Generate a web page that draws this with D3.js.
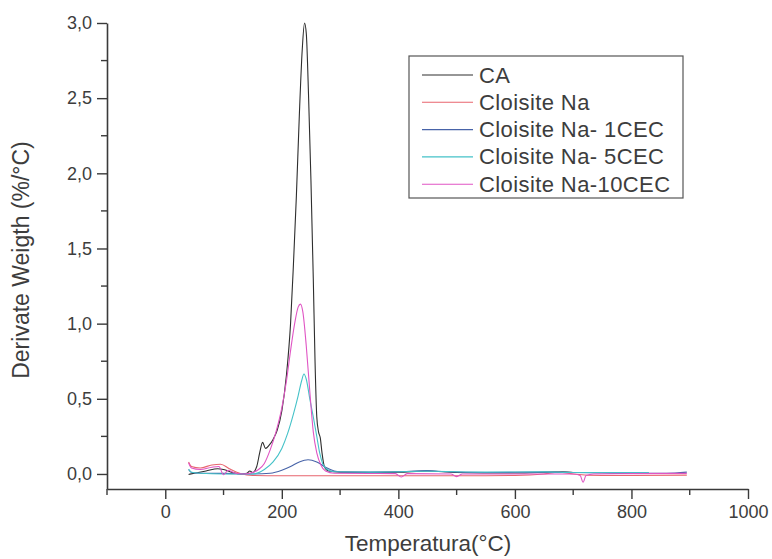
<!DOCTYPE html>
<html><head><meta charset="utf-8">
<script src="https://cdn.jsdelivr.net/npm/d3@7/dist/d3.min.js"></script>
<style>
html,body{margin:0;padding:0;background:#fff;}
svg{display:block;}
text{font-family:"Liberation Sans",Arial,sans-serif;fill:#3d3d3d;}
</style></head>
<body>
<svg id="chart" width="772" height="559"></svg>
<script>
// ---------- data ----------
const seriesNames = ["CA", "Cloisite Na", "Cloisite Na- 1CEC", "Cloisite Na- 5CEC", "Cloisite Na-10CEC"];
const seriesColors = ["#2e2e2e", "#e8646e", "#4763a8", "#45c2c8", "#e055c4"];

const xTickValues = [0, 200, 400, 600, 800, 1000];
const yTickValues = [0, 0.5, 1.0, 1.5, 2.0, 2.5, 3.0];

// [temperature °C, derivative weight %/°C]
const caData = [[40,-0.003],[50,0.005],[70,0.02],[90,0.035],[100,0.03],[115,0.01],[130,0.0],[140,0.004],[145,0.02],[150,0.01],[157,0.05],[162,0.14],[167,0.21],[172,0.17],[178,0.19],[185,0.23],[192,0.29],[200,0.42],[208,0.66],[215,1.0],[220,1.4],[225,1.85],[230,2.38],[235,2.82],[239,3.0],[242,2.93],[246,2.5],[250,1.95],[254,1.3],[257,0.75],[260,0.38],[263,0.28],[266,0.24],[269,0.14],[273,0.05],[280,0.02],[300,0.012],[350,0.01],[400,0.012],[450,0.02],[500,0.01],[600,0.006],[680,0.014],[700,0.01],[750,0.01]];
const naData = [[40,0.08],[45,0.05],[60,0.04],[80,0.06],[95,0.065],[110,0.035],[130,0.002],[150,-0.01],[200,-0.012],[300,-0.012],[400,-0.012],[500,-0.012],[600,-0.01],[650,0.0],[675,0.012],[700,0.0],[750,-0.01],[800,-0.01],[895,-0.008]];
const cec1Data = [[40,0.03],[45,0.01],[60,0.005],[100,0.004],[150,0.0],[180,0.005],[200,0.025],[215,0.05],[230,0.08],[245,0.095],[260,0.08],[275,0.045],[290,0.02],[310,0.012],[350,0.012],[400,0.015],[450,0.022],[480,0.015],[550,0.01],[650,0.012],[700,0.01],[750,0.006],[800,0.004],[860,0.004],[895,0.012]];
const cec5Data = [[40,0.03],[45,0.012],[60,0.005],[100,0.0],[150,0.0],[170,0.03],[185,0.08],[200,0.17],[210,0.27],[220,0.4],[228,0.52],[234,0.62],[238,0.665],[242,0.63],[248,0.5],[254,0.38],[260,0.25],[265,0.14],[270,0.07],[278,0.03],[290,0.015],[350,0.012],[450,0.018],[550,0.012],[650,0.014],[700,0.01],[760,0.01],[830,0.01]];
const cec10Data = [[40,0.075],[45,0.04],[60,0.03],[80,0.045],[92,0.05],[100,-0.005],[108,0.025],[120,0.005],[135,0.0],[150,0.01],[160,0.03],[170,0.07],[180,0.16],[190,0.28],[200,0.44],[208,0.62],[215,0.82],[222,1.0],[228,1.11],[232,1.13],[236,1.08],[242,0.85],[248,0.55],[254,0.28],[260,0.14],[267,0.06],[275,0.02],[290,0.005],[350,0.003],[395,0.002],[405,-0.02],[415,0.002],[490,0.0],[500,-0.018],[510,0.0],[600,0.0],[700,0.0],[712,-0.01],[717,-0.055],[722,-0.01],[735,0.0],[800,0.002],[895,0.004]];

const allData = [caData, naData, cec1Data, cec5Data, cec10Data];

// ---------- layout ----------
const svg = d3.select("#chart");
const x = d3.scaleLinear().domain([-100, 1000]).range([107, 748]);
const y = d3.scaleLinear().domain([-0.1, 3.0]).range([489, 23]);
const fmt = d => d3.format(".1f")(d).replace(".", ",");

// minor ticks
const xMinor = d3.range(-100, 1001, 100).filter(v => v % 200 !== 0);
const yMinor = d3.range(0.25, 3.0, 0.5);

const axisColor = "#3a3a3a";

// x axis
const gx = svg.append("g").attr("transform", `translate(0,${y(-0.1)})`);
gx.call(d3.axisBottom(x).tickValues(xTickValues).tickSize(10).tickPadding(6).tickFormat(d3.format("d")).tickSizeOuter(0));
gx.selectAll(".minor").data(xMinor).enter().append("line").attr("class","minor")
  .attr("x1", d => x(d)).attr("x2", d => x(d)).attr("y1", 0).attr("y2", 6);
// y axis
const gy = svg.append("g").attr("transform", `translate(${x(-100)},0)`);
gy.call(d3.axisLeft(y).tickValues(yTickValues).tickSize(10).tickPadding(5).tickFormat(fmt).tickSizeOuter(0));
gy.selectAll(".minor").data(yMinor).enter().append("line").attr("class","minor")
  .attr("x1", 0).attr("x2", -6).attr("y1", d => y(d)).attr("y2", d => y(d));

svg.selectAll(".domain").attr("stroke", axisColor).attr("stroke-width", 1.6);
svg.selectAll(".tick line, line.minor").attr("stroke", axisColor).attr("stroke-width", 1.4);
svg.selectAll(".tick text").attr("font-size", 18).attr("fill", "#3d3d3d").attr("font-family", '"Liberation Sans",Arial,sans-serif');

// axis titles
svg.append("text").attr("x", 428).attr("y", 551).attr("text-anchor", "middle")
  .attr("font-size", 22.5).text("Temperatura(°C)");
svg.append("text").attr("transform", "translate(29,260) rotate(-90)").attr("text-anchor", "middle")
  .attr("font-size", 23).text("Derivate Weigth (%/°C)");

// lines
const line = d3.line().x(d => x(d[0])).y(d => y(d[1])).curve(d3.curveMonotoneX);
svg.append("g").selectAll("path").data(allData).enter().append("path")
  .attr("d", line).attr("fill", "none")
  .attr("stroke", (d, i) => seriesColors[i]).attr("stroke-width", 1.1)
  .attr("stroke-linejoin", "round");

// legend
const lg = svg.append("g");
lg.append("rect").attr("x", 409).attr("y", 56).attr("width", 274).attr("height", 142)
  .attr("fill", "#fff").attr("stroke", "#555").attr("stroke-width", 1.2);
const rowY = i => 75 + i * 27.3;
seriesNames.forEach((name, i) => {
  lg.append("line").attr("x1", 422).attr("x2", 473).attr("y1", rowY(i)).attr("y2", rowY(i))
    .attr("stroke", seriesColors[i]).attr("stroke-width", 1.1);
  lg.append("text").attr("x", 479).attr("y", rowY(i) + 7.5).attr("font-size", 22)
    .attr("letter-spacing", 0.4).text(name);
});
</script>
</body></html>
